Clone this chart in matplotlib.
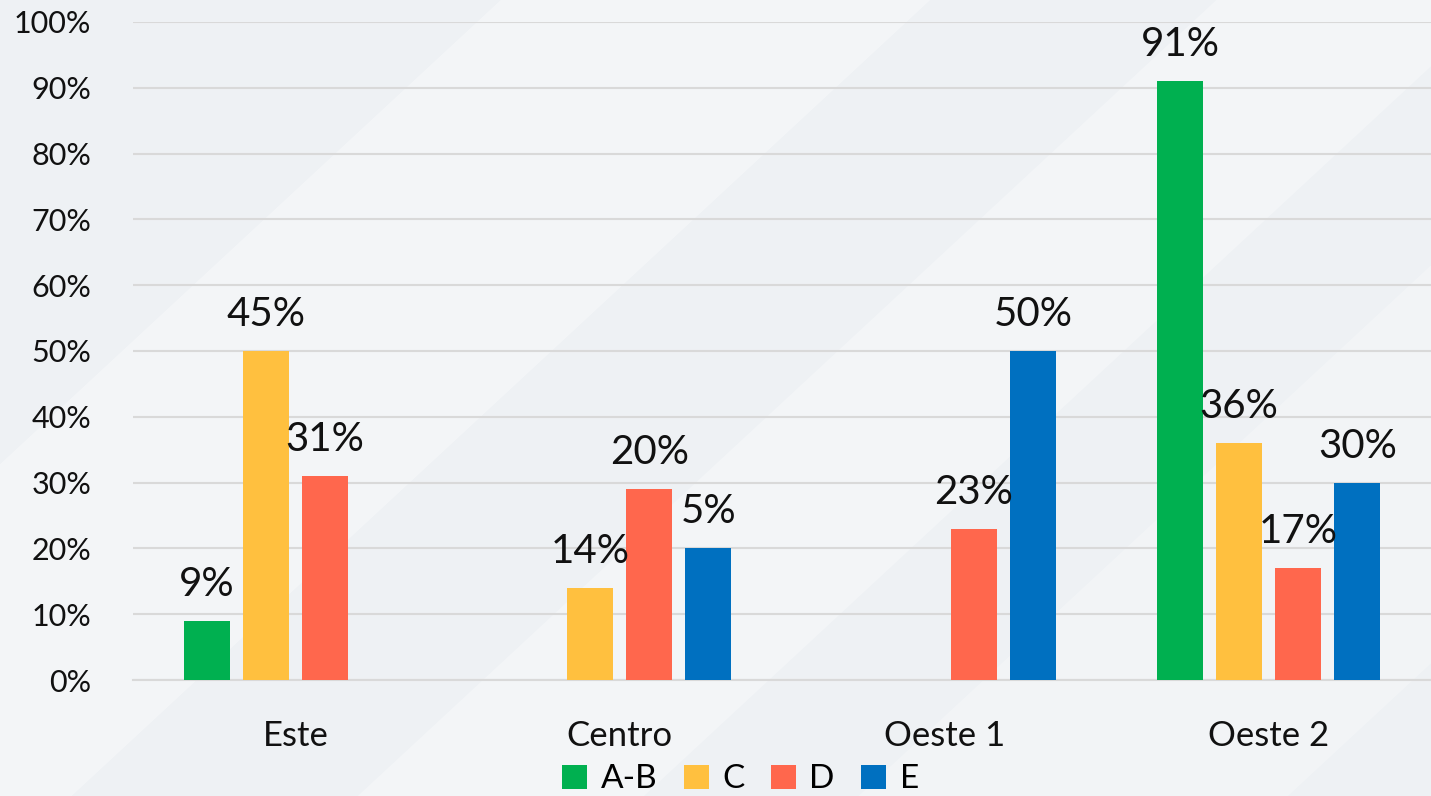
import numpy as np
import matplotlib
matplotlib.use("Agg")
import matplotlib.pyplot as plt
from matplotlib.patches import Polygon

plt.rcParams['font.family'] = ['Lato', 'DejaVu Sans']

categories = ["Este", "Centro", "Oeste 1", "Oeste 2"]
series_names = ["A-B", "C", "D", "E"]
vals_ab = [9, np.nan, np.nan, 91]
vals_c = [50, 14, np.nan, 36]
vals_d = [31, 29, 23, 17]
vals_e = [np.nan, 20, 50, 30]
labels_ab = ["9%", "", "", "91%"]
labels_c = ["45%", "14%", "", "36%"]
labels_d = ["31%", "20%", "23%", "17%"]
labels_e = ["", "5%", "50%", "30%"]
yticks = [0, 10, 20, 30, 40, 50, 60, 70, 80, 90, 100]
ytick_labels = [f"{t}%" for t in yticks]

colors = ["#00b050", "#ffc03f", "#ff674d", "#0070c0"]

fig = plt.figure(figsize=(14.31, 7.96), dpi=100)
fig.patch.set_facecolor("#eef1f4")

# background decoration axes (behind everything)
bg = fig.add_axes([0, 0, 1, 1], zorder=-10)
bg.set_xlim(0, 1)
bg.set_ylim(0, 1)
bg.axis("off")
for (x0, w, a) in [(-0.25, 0.3, 0.35), (0.25, 0.2, 0.3), (0.6, 0.3, 0.25)]:
    bg.add_patch(Polygon([(x0, 0), (x0 + w, 0), (x0 + w + 0.6, 1), (x0 + 0.6, 1)],
                         closed=True, facecolor="white", alpha=a, edgecolor="none"))

ax = fig.add_axes([0.093, 0.1457, 0.907, 0.8267], zorder=1)
ax.set_facecolor("none")

x = np.arange(len(categories))
step = 0.182
width = 0.142
all_vals = [vals_ab, vals_c, vals_d, vals_e]
all_labels = [labels_ab, labels_c, labels_d, labels_e]
for i, (vals, labs, col, name) in enumerate(zip(all_vals, all_labels, colors, series_names)):
    pos = x + (i - 1.5) * step
    ax.bar(pos, vals, width=width, color=col, label=name, zorder=3)
    for p, v, lab in zip(pos, vals, labs):
        if lab and not np.isnan(v):
            ax.annotate(lab, (p, v), xytext=(0, 18), textcoords="offset points",
                        ha="center", va="baseline", fontsize=29, color="#111111", zorder=4)

ax.set_xlim(-0.5, 3.5)
ax.set_ylim(0, 100)
ax.set_yticks(yticks)
ax.set_yticklabels(ytick_labels, fontsize=22, color="#111111")
ax.set_xticks(x)
ax.set_xticklabels(categories, fontsize=25, color="#111111")
ax.tick_params(axis="y", length=0, pad=30)
ax.tick_params(axis="x", length=0, pad=29)
ax.grid(axis="y", color="#d9d9d9", linewidth=1.5, zorder=0)
for s in ["top", "right", "left"]:
    ax.spines[s].set_visible(False)
ax.spines["bottom"].set_color("#d9d9d9")
ax.spines["bottom"].set_linewidth(1.5)

leg = ax.legend(loc="center", bbox_to_anchor=(0.468, -0.151), ncol=4, frameon=False,
                fontsize=24, handlelength=0.75, handleheight=0.75, handletextpad=0.4,
                columnspacing=0.8, borderpad=0.1)

fig.savefig("out.png", dpi=100, facecolor=fig.get_facecolor())
